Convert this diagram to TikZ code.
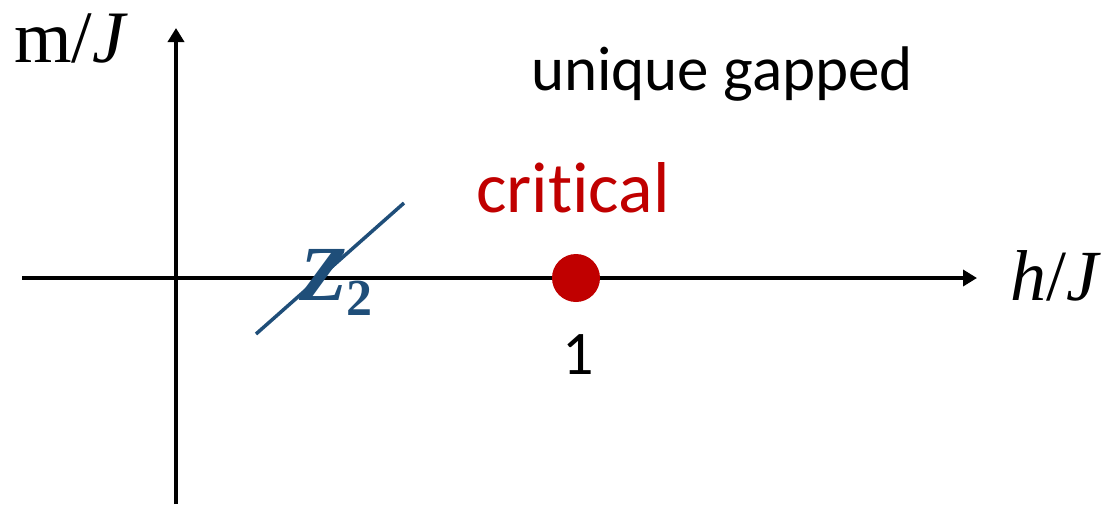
\documentclass[tikz,border=0pt]{standalone}
\usepackage{fontspec}
\setmainfont{Liberation Serif}
\newfontfamily\carlito[Ligatures=NoCommon]{Carlito}
\usetikzlibrary{arrows.meta}
\definecolor{critred}{HTML}{C00000}
\definecolor{ztwoblue}{HTML}{1F4E79}
\tikzset{
  axis/.style={line width=4pt,-{Triangle[length=14pt,width=16pt]}},
  lbl/.style={inner sep=0pt,outer sep=0pt},
}
\begin{document}
\begin{tikzpicture}[x=1pt,y=-1pt]
\useasboundingbox (0,0) rectangle (1115,504);
% axes
\coordinate (vb) at (176,504);
\coordinate (vt) at (176,28);
\coordinate (hl) at (22,278);
\coordinate (hr) at (977,278);
\draw[axis] (vb) -- (vt);
\draw[axis] (hl) -- (hr);
% axis labels
\node[lbl,anchor=base west] (mJ) at (14,62) {\fontsize{74}{74}\selectfont m/\textit{J}};
\node[lbl,anchor=base west] (hJ) at (1010,300) {\fontsize{72}{72}\selectfont \textit{h}/\textit{J}};
% region labels
\node[lbl,anchor=base] (ug) at (722,90) {\carlito\fontsize{63}{63}\selectfont unique gapped};
\node[lbl,anchor=base,text=critred] (crit) at (573,212) {\carlito\fontsize{72}{72}\selectfont critical};
% critical point
\node[circle,fill=critred,minimum size=48pt,inner sep=0pt] (cp) at (576,278) {};
\node[lbl,anchor=base] (one) at (578,374) {\carlito\fontsize{62}{62}\selectfont 1};
% Z2 line
\coordinate (za) at (256,334);
\coordinate (zb) at (404,203);
\draw[ztwoblue,line width=3.5pt] (za) -- (zb);
\node[lbl,anchor=base west,text=ztwoblue] (z2) at (299,300) {\fontsize{78}{78}\selectfont\bfseries\itshape Z\raisebox{-15pt}{\fontsize{52}{52}\selectfont\upshape 2}};
\end{tikzpicture}
\end{document}
